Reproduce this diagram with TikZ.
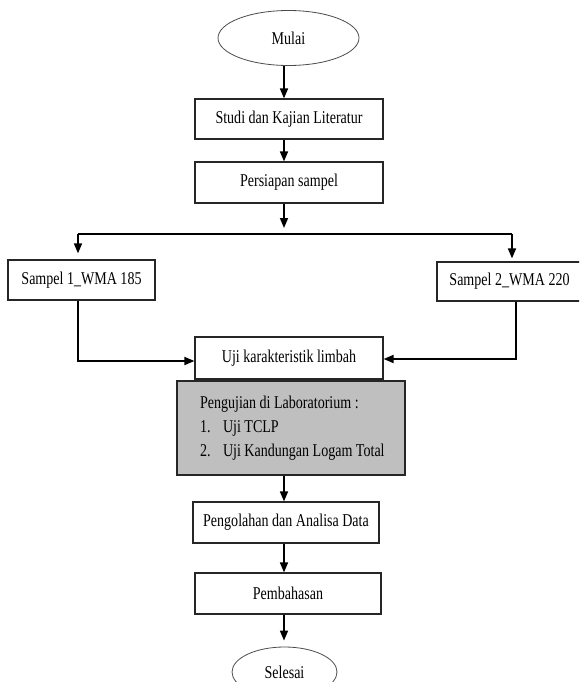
\documentclass[tikz,border=0pt]{standalone}
\usepackage{fontspec}
\setmainfont[FakeStretch=0.78]{Liberation Serif}
\usetikzlibrary{arrows.meta,shapes.geometric}
\newcommand{\labline}[1]{\hbox to 228pt{\hspace*{23pt}#1\hfil}}
\tikzset{
  boxnode/.style={draw=black!85, line width=1.2pt, rectangle, inner sep=0pt, align=center},
  ovalnode/.style={draw=black!70, line width=0.8pt, ellipse, inner sep=0pt},
  labbox/.style={draw=black!85, line width=2pt, fill=black!25, rectangle, inner sep=0pt, align=left},
  arr/.style={line width=1.6pt, -{Triangle[length=10pt,width=8pt]}},
  plainline/.style={line width=1.3pt},
}
\begin{document}
\begin{tikzpicture}[x=1pt,y=-1pt, font=\fontsize{18}{24}\selectfont]
\useasboundingbox (0,0) rectangle (579,682);
\fill[white] (0,0) rectangle (579,682);
\clip (0,0) rectangle (579,682);

\node[ovalnode, minimum width=141pt, minimum height=55pt] (mulai) at (288.5,38) {Mulai};
\node[boxnode, minimum width=188pt, minimum height=40pt] (studi) at (289,119) {Studi dan Kajian Literatur};
\node[boxnode, minimum width=188pt, minimum height=41pt] (persiapan) at (289,182.5) {Persiapan sampel};
\node[boxnode, minimum width=147pt, minimum height=40pt] (s1) at (81.5,280) {Sampel 1\_WMA 185};
\node[boxnode, minimum width=145pt, minimum height=39pt] (s2) at (509.5,281.5) {Sampel 2\_WMA 220};
\node[boxnode, minimum width=188pt, minimum height=42pt] (uji) at (289,358) {Uji karakteristik limbah};
\node[labbox, minimum width=228pt, minimum height=94pt] (lab) at (291,428)
  {\labline{Pengujian di Laboratorium :}\\
   \labline{\makebox[23pt][l]{1.}Uji TCLP}\\
   \labline{\makebox[23pt][l]{2.}Uji Kandungan Logam Total}};
\node[boxnode, minimum width=186pt, minimum height=41pt] (olah) at (286,522.5) {Pengolahan dan Analisa Data};
\node[boxnode, minimum width=186pt, minimum height=41pt] (bahas) at (288,593.5) {Pembahasan};
\node[ovalnode, minimum width=105pt, minimum height=50pt] (selesai) at (284.5,672) {Selesai};

\coordinate (ax) at (284,0);
\coordinate (split) at (284,228);
\coordinate (hl) at (78,234);
\coordinate (hr) at (512,234);
\coordinate (jl) at (78,361);
\coordinate (jr) at (516,359);

\draw[arr] (mulai.south -| ax) -- (studi.north -| ax);
\draw[arr] (studi.south -| ax) -- (persiapan.north -| ax);
\draw[arr] (persiapan.south -| ax) -- (split);
\draw[plainline] (hl) -- (hr);
\draw[arr, shorten >=6pt] (hl) -- (hl |- s1.north);
\draw[arr, shorten >=3pt] (hr) -- (hr |- s2.north);
\draw[arr, line width=1.8pt] (s1.south -| jl) -- (jl) -- (jl -| uji.west);
\draw[arr, line width=1.8pt] (s2.south -| jr) -- (jr) -- (jr -| uji.east);
\draw[arr] (lab.south -| ax) -- (olah.north -| ax);
\draw[arr] (olah.south -| ax) -- (bahas.north -| ax);
\draw[arr, shorten >=6pt] (bahas.south -| ax) -- (selesai.north -| ax);
\end{tikzpicture}
\end{document}
